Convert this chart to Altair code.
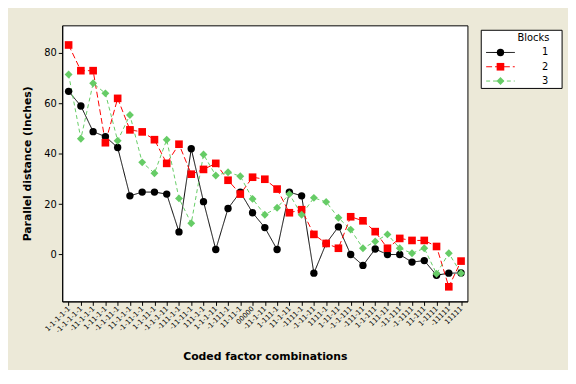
import altair as alt
import pandas as pd

labels = [
    "1-1-1-1-1", "-1-1-1-1-1", "-11-1-1-1", "1-11-1-1", "-1-1-11-1",
    "11-1-1-1", "-1-11-1-1", "1-1-11-1", "-1-1-1-11", "-111-1-1",
    "-11-11-1", "111-1-1", "1-1-1-11", "-1-111-1", "11-11-1",
    "00000", "-11-1-11", "1-111-1", "11-1-11", "-1111-1",
    "-1-11-11", "1111-1", "1-11-11", "-1-1-111", "-111-11",
    "1-1-111", "111-11", "-11-111", "-1-1111", "11-111",
    "1-1111", "-11111", "11111",
]
block1 = [64.8, 59.0, 48.8, 46.8, 42.5, 23.3, 24.8, 24.8, 24.0, 9.0, 42.0,
          21.0, 2.0, 18.3, 24.8, 16.6, 10.7, 2.0, 24.8, 23.3, -7.4, 4.4,
          11.0, 0.0, -4.3, 2.2, 0.0, 0.0, -3.0, -2.4, -8.2, -7.4, -7.3]
block2 = [83.2, 73.0, 73.0, 44.4, 62.0, 49.5, 48.7, 45.6, 36.2, 43.8, 31.9,
          33.8, 36.2, 29.5, 24.0, 30.7, 29.9, 26.0, 16.6, 17.8, 8.0, 4.4,
          2.5, 15.0, 13.4, 9.1, 2.5, 6.4, 5.6, 5.6, 3.2, -12.8, -2.6]
block3 = [71.5, 46.0, 68.0, 64.0, 45.2, 55.4, 36.6, 32.3, 45.6, 22.3, 12.4,
          39.7, 31.4, 32.7, 31.1, 22.1, 15.8, 18.6, 24.0, 15.8, 22.5, 20.9,
          14.6, 9.9, 2.5, 5.2, 8.0, 2.5, 0.5, 2.5, -7.6, 0.5, -7.4]

blocks = ["1", "2", "3"]
colors = ["#000000", "#FF0000", "#66CC66"]
shapes = ["circle", "square", "diamond"]
dashes = [[1, 0], [6, 3], [4, 3]]
sizes = [56, 64, 90]
y_ticks = [0, 20, 40, 60, 80]

FONT = "DejaVu Sans"

rows = []
for b, vals in zip(blocks, [block1, block2, block3]):
    for lab, v in zip(labels, vals):
        rows.append({"combo": lab, "Blocks": b, "value": v})
df = pd.DataFrame(rows)

x_enc = alt.X(
    "combo:N", sort=labels,
    scale=alt.Scale(type="point", padding=0.52),
    axis=alt.Axis(title="Coded factor combinations", labelAngle=-45,
                  labelAlign="right", labelBaseline="middle", labelFontSize=7,
                  labelOverlap=False, labelBound=False, tickSize=4,
                  labelPadding=2, grid=False, titleY=56,
                  titleBaseline="middle"),
)
y_enc = alt.Y(
    "value:Q",
    scale=alt.Scale(domain=[-18.6, 91], nice=False, zero=False),
    axis=alt.Axis(title="Parallel distance (Inches)", values=y_ticks,
                  tickSize=4, labelFontSize=10, labelPadding=2, grid=False,
                  titleX=-35, titleBaseline="middle"),
)
color_enc = alt.Color("Blocks:N", scale=alt.Scale(domain=blocks, range=colors),
                      legend=None)
dash_enc = alt.StrokeDash("Blocks:N", scale=alt.Scale(domain=blocks, range=dashes),
                          legend=None)
shape_enc = alt.Shape("Blocks:N", scale=alt.Scale(domain=blocks, range=shapes),
                      legend=None)
size_enc = alt.Size("Blocks:O", scale=alt.Scale(domain=blocks, range=sizes),
                    legend=None)

lines = alt.Chart(df).mark_line(strokeWidth=1).encode(
    x=x_enc, y=y_enc, color=color_enc, strokeDash=dash_enc)
points = alt.Chart(df).mark_point(filled=True, opacity=1).encode(
    x=x_enc, y=y_enc, color=color_enc, shape=shape_enc, size=size_enc)

main = alt.layer(lines, points).properties(width=411, height=280)

# legend panel
leg_df = pd.DataFrame({"Blocks": blocks, "pos": [1, 2, 3], "txt": blocks})
leg_title = pd.DataFrame({"pos": [0], "txt": ["Blocks"]})
ly = alt.Y("pos:Q", scale=alt.Scale(domain=[-0.897, 3.517], reverse=True,
                                    nice=False, zero=False), axis=None)

box = alt.Chart(pd.DataFrame({"a": [0]})).mark_rect(
    fill="white", stroke="black", strokeWidth=1).encode(
    x=alt.value(0), x2=alt.value(82), y=alt.value(5), y2=alt.value(64))
leg_rules = alt.Chart(leg_df).mark_rule(strokeWidth=1).encode(
    x=alt.value(5), x2=alt.value(34), y=ly, color=color_enc, strokeDash=dash_enc)
leg_points = alt.Chart(leg_df).mark_point(filled=True, opacity=1).encode(
    x=alt.value(19.5), y=ly, color=color_enc, shape=shape_enc, size=size_enc)
leg_text = alt.Chart(leg_df).mark_text(
    align="right", baseline="middle", fontSize=10, font=FONT, color="black").encode(
    x=alt.value(68), y=ly, text="txt:N")
leg_head = alt.Chart(leg_title).mark_text(
    align="right", baseline="middle", fontSize=10, font=FONT, color="black").encode(
    x=alt.value(69), y=ly, text="txt:N")

legend = alt.layer(box, leg_rules, leg_points, leg_text, leg_head).properties(
    width=82, height=64,
    view=alt.ViewBackground(stroke="transparent", fill="transparent"))

chart = alt.hconcat(main, legend, spacing=12).properties(
    padding={"left": 13, "top": 14, "right": 5, "bottom": 5},
    background="#ECE9D8",
).configure_view(
    stroke="black", strokeWidth=1, fill="white"
).configure_axis(
    labelFont=FONT, titleFont=FONT, labelColor="black", titleColor="black",
    tickColor="black", domainColor="black", titleFontSize=11,
    titleFontWeight="bold",
)

chart.save("out.html", embed_options={"renderer": "svg", "actions": False})
